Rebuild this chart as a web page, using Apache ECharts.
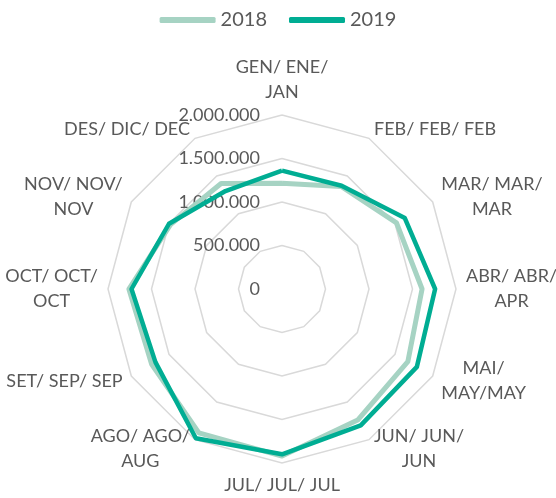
<!DOCTYPE html>
<html>
<head>
<meta charset="utf-8">
<script src="https://cdn.jsdelivr.net/npm/echarts@6/dist/echarts.min.js"></script>
<style>
  html, body { margin: 0; padding: 0; background: #fff; }
  #chart { width: 556px; height: 498px; }
</style>
</head>
<body>
<div id="chart"></div>
<script>
const months = [
  'GEN/ ENE/\nJAN', 'FEB/ FEB/ FEB', 'MAR/ MAR/\nMAR', 'ABR/ ABR/\nAPR',
  'MAI/\nMAY/MAY', 'JUN/ JUN/\nJUN', 'JUL/ JUL/ JUL', 'AGO/ AGO/\nAUG',
  'SET/ SEP/ SEP', 'OCT/ OCT/\nOCT', 'NOV/ NOV/\nNOV', 'DES/ DIC/ DEC'
]
const values2018 = [1215000, 1360000, 1520000, 1610000, 1670000, 1740000, 1920000, 1910000, 1730000, 1760000, 1480000, 1400000]
const values2019 = [1360000, 1370000, 1630000, 1760000, 1790000, 1810000, 1900000, 1980000, 1680000, 1730000, 1500000, 1300000]
const axisMax = 2000000

function fmt(v) {
  return String(Math.round(v)).replace(/\B(?=(\d{3})+(?!\d))/g, '.')
}

// radar runs counter-clockwise, so keep JAN first and reverse the rest
function clockwise(arr) {
  return [arr[0]].concat(arr.slice(1).reverse())
}

const indicators = clockwise(months).map((m, i) => {
  const ind = { name: m, min: 0, max: axisMax }
  if (i === 0) {
    ind.axisLabel = { show: true }
  }
  return ind
})

const chart = echarts.init(document.getElementById('chart'))
chart.setOption({
  animation: false,
  textStyle: { fontFamily: 'Lato' },
  legend: {
    top: 5,
    left: 'center',
    itemWidth: 56,
    itemHeight: 6,
    itemGap: 22,
    icon: 'roundRect',
    textStyle: { fontSize: 20, color: '#595959', fontFamily: 'Lato' },
    data: ['2018', '2019']
  },
  radar: {
    center: [282, 289],
    radius: 174,
    shape: 'polygon',
    startAngle: 90,
    splitNumber: 4,
    indicator: indicators,
    nameGap: 10,
    axisName: {
      color: '#595959',
      fontSize: 18,
      lineHeight: 25,
      fontFamily: 'Lato',
      // centre each line inside the label block, like the original
      formatter: name => name.split('\n').map(l => '{c|' + l + '}').join('\n'),
      rich: {
        c: {
          align: 'center',
          color: '#595959',
          fontSize: 18,
          lineHeight: 25,
          fontFamily: 'Lato'
        }
      }
    },
    axisLine: { show: false },
    axisTick: { show: false },
    axisLabel: {
      show: false,
      color: '#595959',
      fontSize: 18,
      fontFamily: 'Lato',
      margin: 22,
      formatter: fmt
    },
    splitArea: { show: false },
    splitLine: { lineStyle: { color: '#d9d9d9', width: 1.5 } }
  },
  series: [
    {
      type: 'radar',
      symbol: 'none',
      data: [
        {
          name: '2018',
          value: clockwise(values2018),
          lineStyle: { color: '#a6d3c3', width: 5 },
          itemStyle: { color: '#a6d3c3' }
        },
        {
          name: '2019',
          value: clockwise(values2019),
          lineStyle: { color: '#00ad93', width: 4.5 },
          itemStyle: { color: '#00ad93' }
        }
      ]
    }
  ]
})
</script>
</body>
</html>
